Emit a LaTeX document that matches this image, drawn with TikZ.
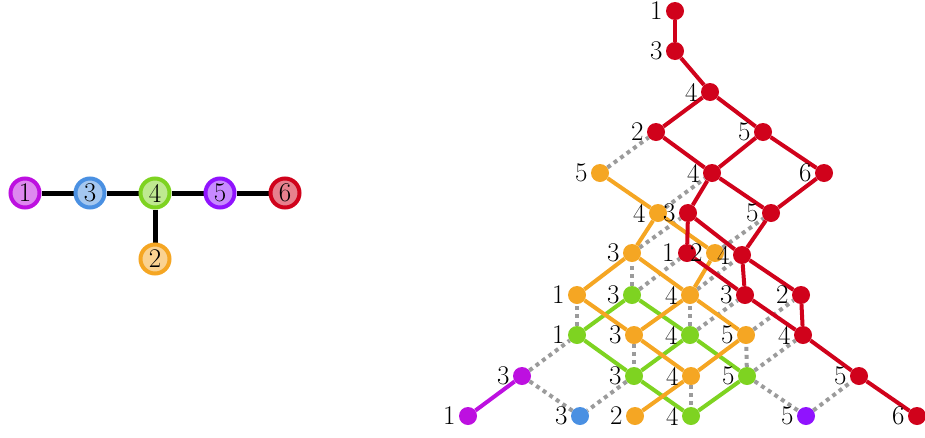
\documentclass[tikz,border=0pt]{standalone}
\usepackage{xcolor}
\usepackage{tikz}
\usetikzlibrary{positioning, backgrounds}

\definecolor{sred}{HTML}{D0021B}
\definecolor{sorange}{HTML}{F5A623}
\definecolor{sgreen}{HTML}{7ED321}
\definecolor{sblue}{HTML}{4A90E2}
\definecolor{spurple}{HTML}{9013FE}
\definecolor{smagenta}{HTML}{BD10E0}
\definecolor{sgray}{HTML}{9B9B9B}

\tikzset{
  num/.style={font=\fontsize{27}{27}\selectfont, inner sep=0pt, text=black},
  dynk/.style={circle, inner sep=0pt, minimum size=29pt, line width=4pt,
    draw=#1, fill=#1!50, font=\fontsize{27}{27}\selectfont},
  vert/.style={circle, inner sep=0pt, minimum size=18pt},
  bond/.style={line width=4pt},
  hop/.style={sgray, line width=4pt, dash pattern=on 4pt off 4pt},
}

\begin{document}
\begin{tikzpicture}[x=1pt, y=-1pt]
\useasboundingbox (0,0) rectangle (925,437);
% Dynkin diagram
\foreach \n/\x/\y/\col/\t in {d1/25/193/smagenta/1, d3/90/193/sblue/3,
  d4/155/193/sgreen/4, d5/220/193/spurple/5, d6/285/193/sred/6,
  d2/155/259/sorange/2}
  \node[dynk=\col] (\n) at (\x,\y) {\t};
\begin{scope}[on background layer]
  \draw[line width=5pt] (d1) -- (d3) -- (d4) -- (d5) -- (d6) (d4) -- (d2);
\end{scope}
% Red part
\foreach \n/\x/\y in {r1/675/11, r3/675/51, r4a/710/92, r2a/656/132,
  r5a/763/132, r4b/712/173, r6a/824/173, r3b/688/213, r5b/771/213,
  r1b/687/253, r4c/742/255, r3c/745/295, r2b/801/295, r4d/803/335,
  r5c/859/376, r6b/917/416}
  \node[vert, fill=sred] (\n) at (\x,\y) {};
% Orange part
\foreach \n/\x/\y in {o5/600/173, o4a/658/213, o3a/632/253, o2a/715/253,
  o1/577/295, o4b/690/295, o3b/634/335, o5b/746/335, o4c/691/376,
  o2b/635/416}
  \node[vert, fill=sorange] (\n) at (\x,\y) {};
% Green part
\foreach \n/\x/\y in {g3a/632/295, g1/577/335, g4a/690/335, g3b/634/376,
  g5/747/376, g4b/691/416}
  \node[vert, fill=sgreen] (\n) at (\x,\y) {};
% Single vertices
\node[vert, fill=smagenta] (m3) at (522,376) {};
\node[vert, fill=smagenta] (m1) at (468,416) {};
\node[vert, fill=sblue] (b3) at (580,416) {};
\node[vert, fill=spurple] (p5) at (806,416) {};
% Labels
\foreach \n/\t in {r1/1, r3/3, r4a/4, r2a/2, r5a/5, r4b/4, r6a/6, r3b/3,
  r5b/5, r1b/1, r4c/4, r3c/3, r2b/2, r4d/4, r5c/5, r6b/6,
  o5/5, o4a/4, o3a/3, o2a/2, o1/1, o4b/4, o3b/3, o5b/5, o4c/4, o2b/2,
  g3a/3, g1/1, g4a/4, g3b/3, g5/5, g4b/4, m3/3, m1/1, b3/3, p5/5}
  \node[num, left=3pt of \n] (\n-t) {\t};
\begin{scope}[on background layer]
  % Links between colours
  \foreach \a/\b in {o5/r2a, o4a/r4b, o3a/r3b, o2a/r5b, g3a/o3a, g3a/r1b,
    o4b/r4c, g1/o1, g4a/o4b, g4a/r3c, o3b/g3b, o5b/r2b, g5/o5b, g5/r4d,
    g5/p5, p5/r5c, o4c/g4b, g3b/b3, b3/m3, m3/g1}
    \draw[hop] (\a) -- (\b);
  % Green edges
  \foreach \a/\b in {g3a/g1, g3a/g4a, g1/g3b, g4a/g3b, g4a/g5, g3b/g4b,
    g5/g4b}
    \draw[bond, sgreen] (\a) -- (\b);
  % Orange edges
  \foreach \a/\b in {o5/o4a, o4a/o3a, o4a/o2a, o3a/o1, o3a/o4b, o2a/o4b,
    o1/o3b, o4b/o3b, o4b/o5b, o3b/o4c, o5b/o4c, o4c/o2b}
    \draw[bond, sorange] (\a) -- (\b);
  % Red edges
  \foreach \a/\b in {r1/r3, r3/r4a, r4a/r2a, r4a/r5a, r2a/r4b, r5a/r4b,
    r5a/r6a, r4b/r3b, r4b/r5b, r6a/r5b, r3b/r1b, r3b/r4c, r5b/r4c,
    r1b/r3c, r4c/r3c, r4c/r2b, r3c/r4d, r2b/r4d, r4d/r5c, r5c/r6b}
    \draw[bond, sred] (\a) -- (\b);
  % Magenta edge
  \draw[bond, smagenta] (m1) -- (m3);
\end{scope}
\end{tikzpicture}
\end{document}
